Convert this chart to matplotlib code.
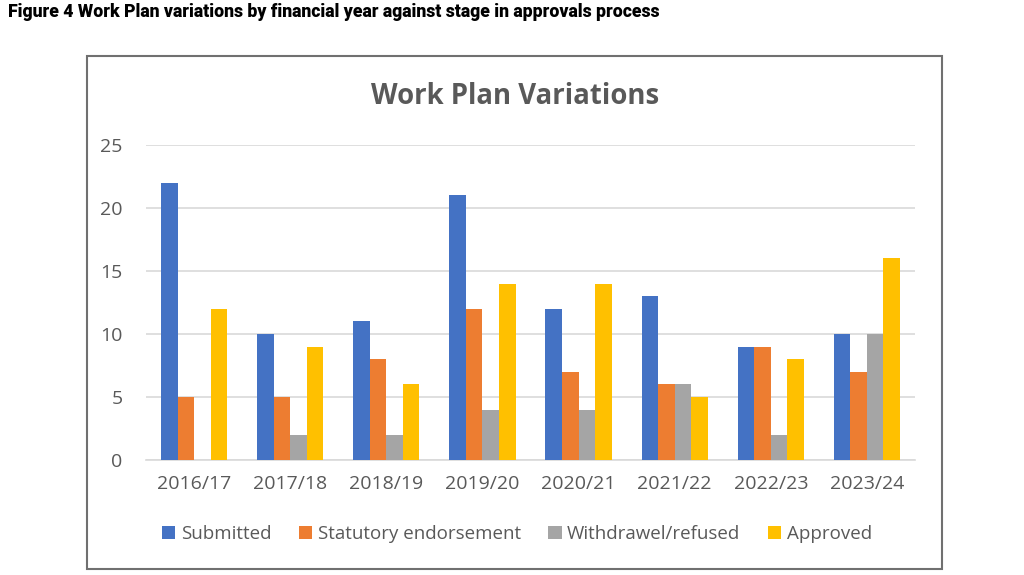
import numpy as np
import matplotlib.pyplot as plt
from matplotlib.patches import Rectangle

# Values
years = ["2016/17", "2017/18", "2018/19", "2019/20", "2020/21", "2021/22", "2022/23", "2023/24"]
submitted = [22, 10, 11, 21, 12, 13, 9, 10]
statutory = [5, 5, 8, 12, 7, 6, 9, 7]
withdrawn = [0, 2, 2, 4, 4, 6, 2, 10]
approved = [12, 9, 6, 14, 14, 5, 8, 16]

series = [
    ("Submitted", submitted, "#4472C4"),
    ("Statutory endorsement", statutory, "#ED7D31"),
    ("Withdrawel/refused", withdrawn, "#A5A5A5"),
    ("Approved", approved, "#FFC000"),
]

plt.rcParams['font.family'] = ['Open Sans', 'DejaVu Sans']

fig = plt.figure(figsize=(10.24, 5.75), dpi=100)
W, H = 1024, 575

# Report caption above the chart
fig.text(8 / W, 1 - 12 / H, "Figure 4 Work Plan variations by financial year against stage in approvals process",
         fontsize=12.7, fontweight='black', color='black', ha='left', va='center',
         family=['Roboto', 'DejaVu Sans'])

# Border around the chart
fig.patches.append(Rectangle((87 / W, 1 - 569 / H), (942 - 87) / W, (569 - 56) / H,
                             transform=fig.transFigure, fill=False, edgecolor='#707070', linewidth=1.5))

left, right, top, bottom = 146, 915, 145, 460
ax = fig.add_axes([left / W, 1 - bottom / H, (right - left) / W, (bottom - top) / H])

x = np.arange(len(years))
width = 0.172
for i, (name, vals, col) in enumerate(series):
    ax.bar(x + (i - 1.5) * width, vals, width, color=col, label=name, zorder=3)

ax.set_ylim(0, 25)
ax.set_xlim(-0.5, len(years) - 0.5)
ax.set_yticks([0, 5, 10, 15, 20, 25])
ax.set_xticks(x)
ax.set_xticklabels(years)
ax.grid(axis='y', color='#D9D9D9', linewidth=1.2, zorder=0)
for s in ['top', 'right', 'left']:
    ax.spines[s].set_visible(False)
ax.spines['bottom'].set_color('#D9D9D9')
ax.spines['bottom'].set_linewidth(1.2)
ax.tick_params(axis='both', length=0, labelsize=14, colors='#595959', pad=11)
ax.tick_params(axis='y', pad=17)

fig.text(515 / W, 1 - 96 / H, "Work Plan Variations", fontsize=19.8, fontweight='bold',
         color='#595959', ha='center', va='center')

handles, labels = ax.get_legend_handles_labels()
fig.legend(handles, labels, loc='center', bbox_to_anchor=(517 / W, 1 - 534 / H), ncol=4,
           frameon=False, fontsize=13.5, handlelength=0.7, handleheight=0.7,
           handletextpad=0.3, columnspacing=1.47, labelcolor='#595959')

fig.savefig("out.png", dpi=100)
